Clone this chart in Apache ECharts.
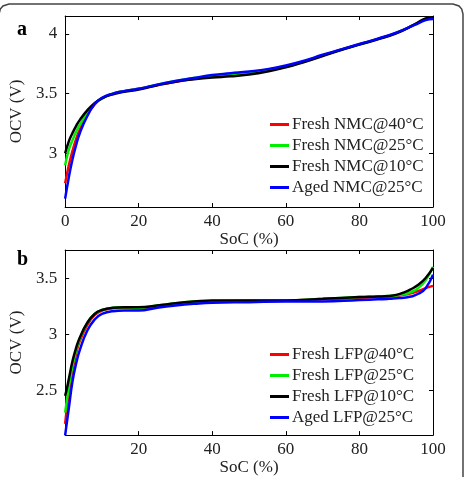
<!DOCTYPE html>
<html>
<head>
<meta charset="utf-8">
<script src="https://cdn.jsdelivr.net/npm/echarts@6/dist/echarts.min.js"></script>
<style>
  html, body { margin: 0; padding: 0; background: #fff; }
  #main { width: 465px; height: 477px; }
</style>
</head>
<body>
<div id="main"></div>
<script>
var chart = echarts.init(document.getElementById('main'));

// panel a : NMC cell, OCV vs SoC
var socNMC = [0, 1, 2, 3, 4, 6, 8, 10, 13, 16, 20, 25, 30, 35, 40, 45, 50, 55, 60, 65, 70, 75, 80, 85, 90, 95, 98, 100];
var nmc40 = [2.75, 2.90, 3.02, 3.12, 3.20, 3.32, 3.41, 3.46, 3.50, 3.52, 3.54, 3.57, 3.60, 3.625, 3.645, 3.66, 3.675, 3.70, 3.73, 3.77, 3.82, 3.868, 3.913, 3.958, 4.008, 4.078, 4.125, 4.14];
var nmc25 = [2.90, 3.03, 3.11, 3.18, 3.24, 3.34, 3.415, 3.46, 3.50, 3.52, 3.54, 3.575, 3.605, 3.63, 3.645, 3.655, 3.67, 3.695, 3.725, 3.77, 3.82, 3.867, 3.912, 3.958, 4.008, 4.078, 4.125, 4.135];
var nmc10 = [3.00, 3.10, 3.17, 3.23, 3.28, 3.36, 3.42, 3.46, 3.495, 3.515, 3.535, 3.57, 3.60, 3.62, 3.635, 3.645, 3.66, 3.685, 3.72, 3.765, 3.815, 3.865, 3.91, 3.955, 4.005, 4.08, 4.13, 4.14];
var nmcAged = [2.62, 2.80, 2.95, 3.07, 3.17, 3.31, 3.41, 3.465, 3.50, 3.52, 3.54, 3.575, 3.605, 3.63, 3.655, 3.67, 3.685, 3.705, 3.735, 3.775, 3.825, 3.87, 3.915, 3.96, 4.01, 4.075, 4.115, 4.125];

// panel b : LFP cell
var socLFP = [0, 0.5, 1, 2, 3, 4, 6, 8, 10, 13, 16, 20, 25, 30, 35, 40, 50, 60, 70, 80, 85, 88, 90, 92, 94, 96, 98, 100];
var lfp40 = [2.20, 2.35, 2.48, 2.68, 2.83, 2.94, 3.08, 3.17, 3.21, 3.23, 3.235, 3.23, 3.245, 3.265, 3.28, 3.29, 3.295, 3.30, 3.31, 3.325, 3.33, 3.335, 3.34, 3.35, 3.365, 3.385, 3.41, 3.43];
var lfp25 = [2.30, 2.42, 2.53, 2.72, 2.86, 2.96, 3.10, 3.18, 3.215, 3.235, 3.24, 3.235, 3.255, 3.275, 3.29, 3.295, 3.30, 3.30, 3.315, 3.33, 3.335, 3.34, 3.345, 3.355, 3.375, 3.41, 3.48, 3.60];
var lfp10 = [2.45, 2.52, 2.60, 2.76, 2.88, 2.97, 3.10, 3.18, 3.215, 3.235, 3.24, 3.24, 3.255, 3.275, 3.29, 3.30, 3.30, 3.30, 3.315, 3.33, 3.335, 3.34, 3.35, 3.37, 3.40, 3.44, 3.50, 3.59];
var lfpAged = [2.10, 2.22, 2.34, 2.58, 2.74, 2.86, 3.03, 3.13, 3.18, 3.205, 3.21, 3.21, 3.235, 3.255, 3.27, 3.28, 3.285, 3.29, 3.29, 3.305, 3.31, 3.315, 3.32, 3.325, 3.335, 3.36, 3.41, 3.53];

var namesNMC = ['Fresh NMC@40°C', 'Fresh NMC@25°C', 'Fresh NMC@10°C', 'Aged NMC@25°C'];
var namesLFP = ['Fresh LFP@40°C', 'Fresh LFP@25°C', 'Fresh LFP@10°C', 'Aged LFP@25°C'];
var colores = ['#ff0000', '#00ee00', '#000000', '#0000ff'];

var xTicksA = [0, 20, 40, 60, 80, 100];
var xTicksB = [20, 40, 60, 80, 100];
var yTicksA = [3, 3.5, 4];
var yTicksB = [2.5, 3, 3.5];

var fuente = '"Liberation Serif", "Times New Roman", serif';

function pares(xs, ys) {
  return xs.map(function (x, i) { return [x, ys[i]]; });
}

function ejeX(grid, ticks, pos) {
  var arriba = pos === 'top';
  return {
    type: 'value', gridIndex: grid, position: pos, min: 0, max: 100,
    name: arriba ? '' : 'SoC (%)', nameLocation: 'middle', nameGap: 22,
    nameTextStyle: { fontFamily: fuente, fontSize: 17, color: '#222' },
    axisLine: { show: true, onZero: false, lineStyle: { color: '#000', width: 1 } },
    axisTick: { show: true, inside: true, length: 4, customValues: ticks, lineStyle: { color: '#000' } },
    axisLabel: { show: !arriba, customValues: ticks, margin: 6, fontFamily: fuente, fontSize: 17, color: '#222' },
    splitLine: { show: false }
  };
}

function ejeY(grid, min, max, ticks, pos) {
  var derecha = pos === 'right';
  return {
    type: 'value', gridIndex: grid, position: pos, min: min, max: max,
    name: derecha ? '' : 'OCV (V)', nameLocation: 'middle', nameGap: 28,
    nameTextStyle: { fontFamily: fuente, fontSize: 17, color: '#222' },
    axisLine: { show: true, onZero: false, lineStyle: { color: '#000', width: 1 } },
    axisTick: { show: true, inside: true, length: 4, customValues: ticks, lineStyle: { color: '#000' } },
    axisLabel: { show: !derecha, customValues: ticks, margin: 8, fontFamily: fuente, fontSize: 17, color: '#222',
      formatter: function (v) { return String(v); } },
    splitLine: { show: false }
  };
}

function serie(nombre, xs, ys, color, idx) {
  return {
    name: nombre, type: 'line', xAxisIndex: idx, yAxisIndex: idx,
    data: pares(xs, ys), smooth: 0.5,
    symbol: 'none', lineStyle: { color: color, width: 2.5 }, itemStyle: { color: color }
  };
}

function leyenda(nombres, top) {
  return {
    data: nombres, orient: 'vertical', left: 270, top: top,
    icon: 'rect', itemWidth: 19, itemHeight: 3, itemGap: 0, padding: 0,
    textStyle: { fontFamily: fuente, fontSize: 17, color: '#222', lineHeight: 21, padding: [0, 0, 0, -2] }
  };
}

var option = {
  animation: false,
  backgroundColor: '#fff',
  grid: [
    { left: 60, top: 16, width: 373, height: 191 },
    { left: 60, top: 250, width: 373, height: 191 }
  ],
  xAxis: [ejeX(0, xTicksA, 'bottom'), ejeX(1, xTicksB, 'bottom'), ejeX(0, xTicksA, 'top'), ejeX(1, xTicksB, 'top')],
  yAxis: [ejeY(0, 2.55, 4.15, yTicksA, 'left'), ejeY(1, 2.1, 3.75, yTicksB, 'left'),
    ejeY(0, 2.55, 4.15, yTicksA, 'right'), ejeY(1, 2.1, 3.75, yTicksB, 'right')],
  legend: [leyenda(namesNMC, 114), leyenda(namesLFP, 344)],
  series: [
    serie(namesNMC[0], socNMC, nmc40, colores[0], 0),
    serie(namesNMC[1], socNMC, nmc25, colores[1], 0),
    serie(namesNMC[2], socNMC, nmc10, colores[2], 0),
    serie(namesNMC[3], socNMC, nmcAged, colores[3], 0),
    serie(namesLFP[0], socLFP, lfp40, colores[0], 1),
    serie(namesLFP[1], socLFP, lfp25, colores[1], 1),
    serie(namesLFP[2], socLFP, lfp10, colores[2], 1),
    serie(namesLFP[3], socLFP, lfpAged, colores[3], 1)
  ],
  graphic: [
    // marco redondeado de la figura, abierto por abajo
    { type: 'polyline', silent: true, z: -1,
      shape: { points: [[-1, 490], [-1, 14], [0.3, 9], [3, 6], [9, 4], [453, 4], [459, 6], [461.7, 9], [463, 14], [463, 490]] },
      style: { fill: null, stroke: '#444', lineWidth: 1.5 } },
    { type: 'text', left: 17, top: 20, style: { text: 'a', font: 'bold 20px "Liberation Serif"', fill: '#000' } },
    { type: 'text', left: 17, top: 250, style: { text: 'b', font: 'bold 20px "Liberation Serif"', fill: '#000' } }
  ]
};

chart.setOption(option);
</script>
</body>
</html>
